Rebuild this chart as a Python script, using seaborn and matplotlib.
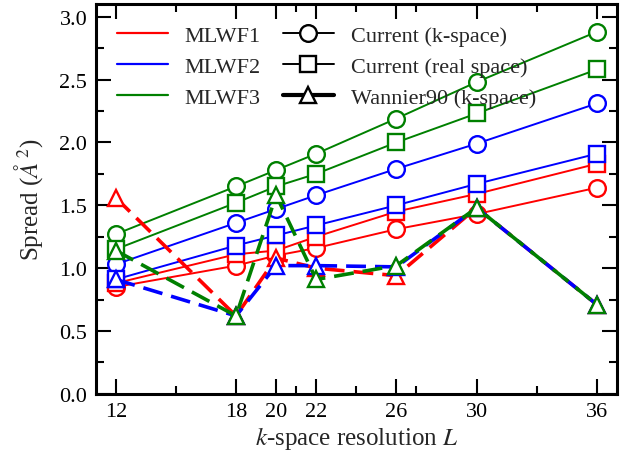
import matplotlib
matplotlib.use("Agg")
import matplotlib.pyplot as plt
from matplotlib.lines import Line2D
from matplotlib.ticker import MultipleLocator
import seaborn as sns

# k-space resolution
L = [12, 18, 20, 22, 26, 30, 36]

# Current (k-space)
kspace_mlwf1 = [0.85, 1.02, 1.10, 1.16, 1.31, 1.43, 1.64]
kspace_mlwf2 = [1.03, 1.36, 1.47, 1.58, 1.79, 1.99, 2.31]
kspace_mlwf3 = [1.27, 1.65, 1.78, 1.91, 2.19, 2.48, 2.88]

# Current (real space)
real_mlwf1 = [0.88, 1.11, 1.14, 1.25, 1.45, 1.59, 1.83]
real_mlwf2 = [0.91, 1.18, 1.26, 1.34, 1.50, 1.67, 1.91]
real_mlwf3 = [1.15, 1.52, 1.65, 1.75, 2.00, 2.23, 2.58]

# Wannier90 (k-space)
w90_mlwf1 = [1.56, 0.62, 1.08, 1.00, 0.94, 1.48, 0.71]
w90_mlwf2 = [0.91, 0.62, 1.02, 1.02, 1.01, 1.48, 0.71]
w90_mlwf3 = [1.14, 0.62, 1.58, 0.91, 1.02, 1.48, 0.71]

wf_names = ["MLWF1", "MLWF2", "MLWF3"]
wf_colors = ["red", "blue", "green"]
method_names = ["Current (k-space)", "Current (real space)", "Wannier90 (k-space)"]

series = {
    "Current (k-space)": [kspace_mlwf1, kspace_mlwf2, kspace_mlwf3],
    "Current (real space)": [real_mlwf1, real_mlwf2, real_mlwf3],
    "Wannier90 (k-space)": [w90_mlwf1, w90_mlwf2, w90_mlwf3],
}
markers = {"Current (k-space)": "o", "Current (real space)": "s", "Wannier90 (k-space)": "^"}

sns.set_theme(style="ticks")
plt.rcParams["font.family"] = ["Liberation Serif", "DejaVu Serif"]
plt.rcParams["mathtext.fontset"] = "stix"

fig, ax = plt.subplots(figsize=(6.38, 4.64), dpi=100)
fig.subplots_adjust(left=0.150, right=0.967, bottom=0.149, top=0.989)

for method in method_names:
    w90 = method.startswith("Wannier")
    for vals, c in zip(series[method], wf_colors):
        sns.lineplot(x=L, y=vals, ax=ax, color=c, marker=markers[method],
                     markersize=12, markerfacecolor="white", markeredgecolor=c,
                     markeredgewidth=1.7,
                     linewidth=2.6 if w90 else 1.4,
                     linestyle=(0, (5.5, 2.5)) if w90 else "-",
                     legend=False)

ax.set_xlim(11, 37)
ax.set_ylim(0, 3.1)
ax.set_xticks(L)
ax.xaxis.set_minor_locator(MultipleLocator(3))
ax.yaxis.set_minor_locator(MultipleLocator(0.25))
ax.set_yticks([0, 0.5, 1.0, 1.5, 2.0, 2.5, 3.0])
ax.set_yticklabels(["0.0", "0.5", "1.0", "1.5", "2.0", "2.5", "3.0"])
ax.tick_params(which="both", direction="in", top=True, right=True,
               labelsize=16, colors="black")
ax.tick_params(which="major", length=11, width=1.5, pad=6)
ax.tick_params(which="minor", length=5.5, width=1.5)
for sp in ax.spines.values():
    sp.set_linewidth(2.2)
    sp.set_color("black")

ax.set_xlabel("$k$-space resolution $L$", fontsize=18, labelpad=2)
ax.set_ylabel("Spread ($Å^2$)", fontsize=18)
ax.yaxis.set_label_coords(-0.097, 0.5)

handles = [Line2D([], [], color=c, lw=1.6) for c in wf_colors]
handles += [
    Line2D([], [], color="black", lw=1.4, marker="o", markersize=12,
           markerfacecolor="white", markeredgewidth=1.7),
    Line2D([], [], color="black", lw=1.4, marker="s", markersize=12,
           markerfacecolor="white", markeredgewidth=1.7),
    Line2D([], [], color="black", lw=3, marker="^", markersize=12,
           markerfacecolor="white", markeredgewidth=1.7),
]
labels = wf_names + method_names
ax.legend(handles, labels, ncol=2, loc="upper left", frameon=False,
          fontsize=16, handlelength=2.3, columnspacing=1.0,
          labelspacing=0.48, handletextpad=0.75, borderpad=0.45,
          bbox_to_anchor=(0.0, 1.0))

fig.savefig("out.png", dpi=100)
